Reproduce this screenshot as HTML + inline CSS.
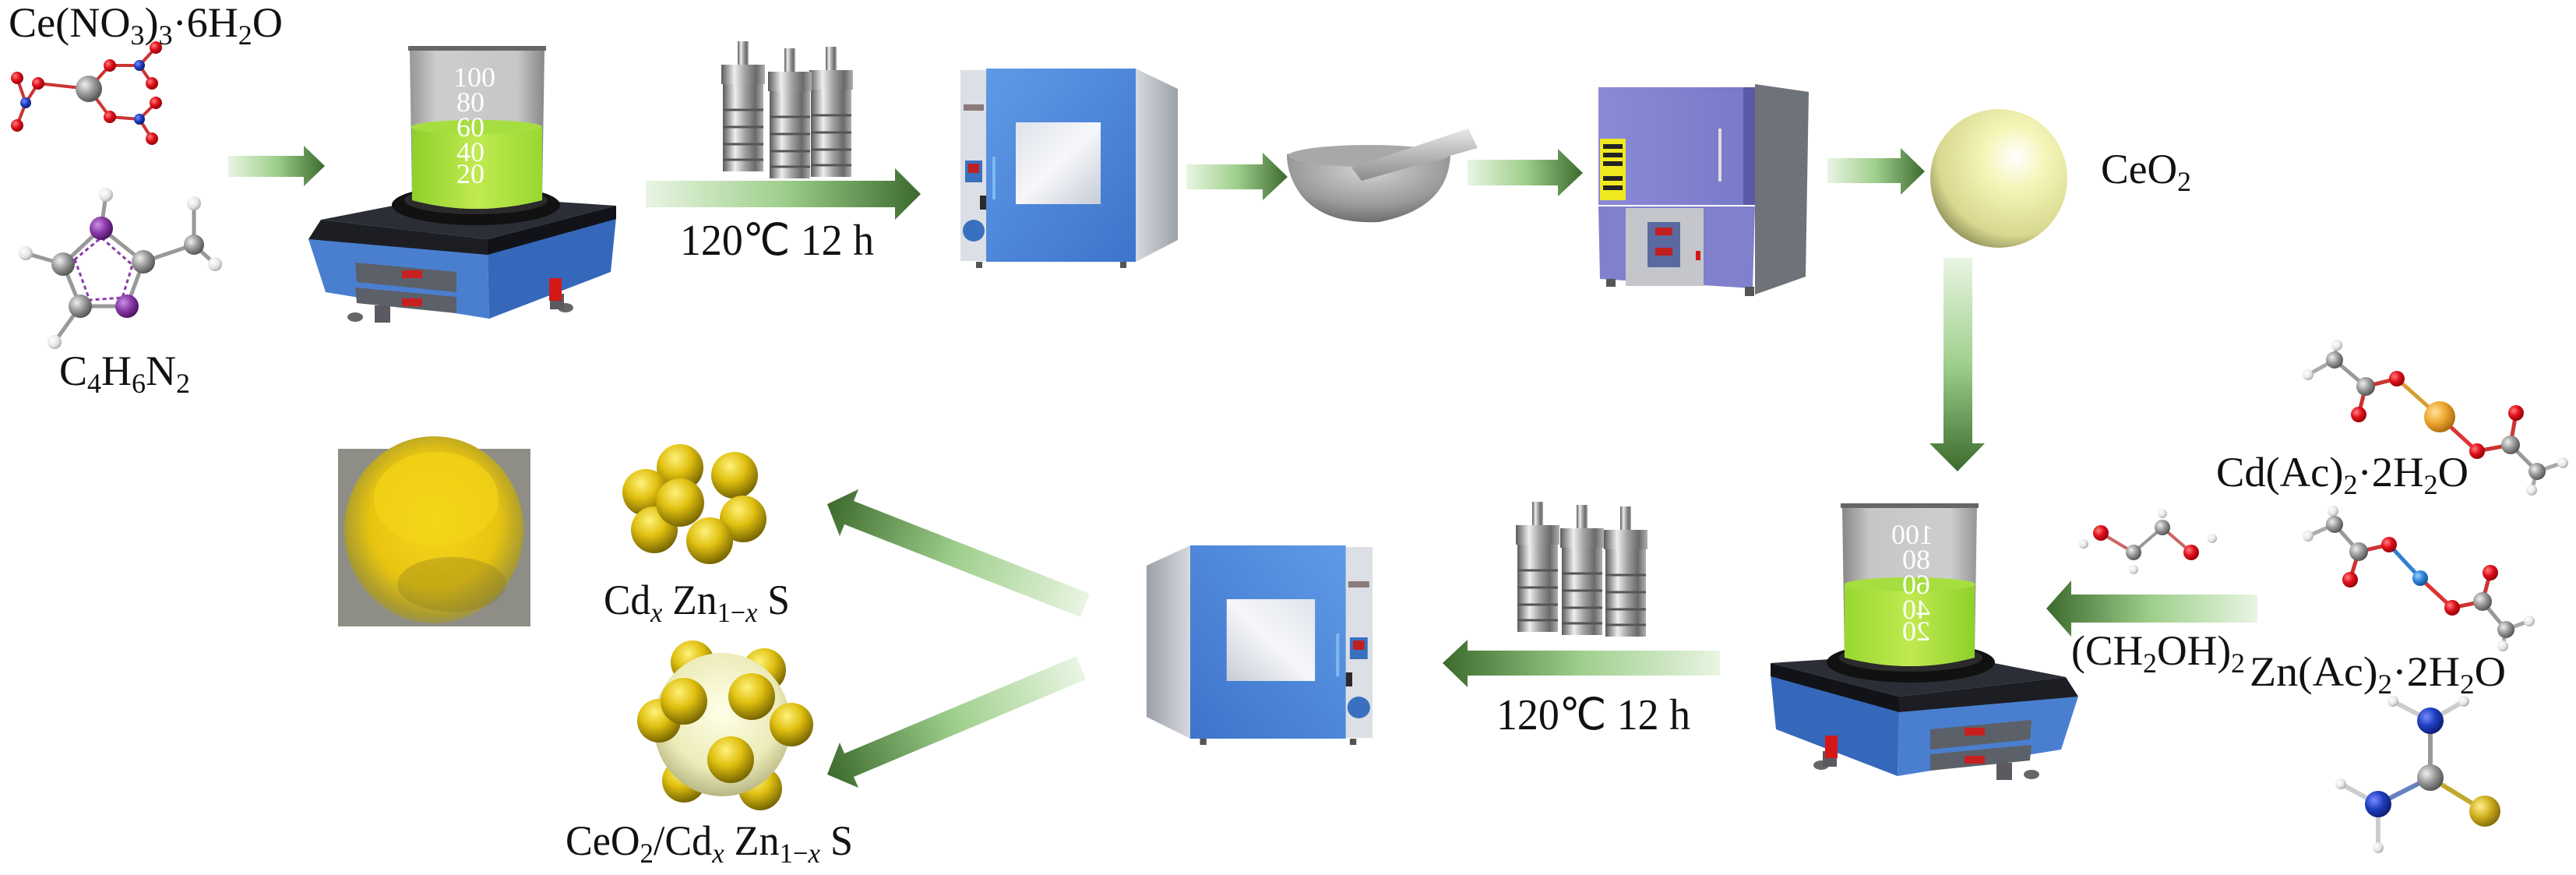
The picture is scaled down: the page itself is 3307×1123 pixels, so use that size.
<!DOCTYPE html>
<html><head><meta charset="utf-8"><style>
html,body{margin:0;padding:0;background:#fff;}
svg{display:block;}
text{font-family:"Liberation Serif",serif;fill:#111;}
</style></head><body>
<svg width="3307" height="1123" viewBox="0 0 3307 1123" xmlns="http://www.w3.org/2000/svg">
<defs>
<linearGradient id="gR" x1="0" x2="1" y1="0" y2="0"><stop offset="0" stop-color="#e9f5e3"/><stop offset="0.5" stop-color="#9fcf8c"/><stop offset="1" stop-color="#3b6a2c"/></linearGradient>
<linearGradient id="gL" x1="1" x2="0" y1="0" y2="0"><stop offset="0" stop-color="#e9f5e3"/><stop offset="0.5" stop-color="#9fcf8c"/><stop offset="1" stop-color="#3b6a2c"/></linearGradient>
<linearGradient id="gD" x1="0" x2="0" y1="0" y2="1"><stop offset="0" stop-color="#e9f5e3"/><stop offset="0.5" stop-color="#9fcf8c"/><stop offset="1" stop-color="#3b6a2c"/></linearGradient>
<linearGradient id="gU" gradientUnits="userSpaceOnUse" x1="1393" y1="777" x2="1062" y2="646"><stop offset="0" stop-color="#e9f5e3"/><stop offset="0.5" stop-color="#9fcf8c"/><stop offset="1" stop-color="#3b6a2c"/></linearGradient>
<linearGradient id="gLo" gradientUnits="userSpaceOnUse" x1="1388" y1="857" x2="1062" y2="994"><stop offset="0" stop-color="#e9f5e3"/><stop offset="0.5" stop-color="#9fcf8c"/><stop offset="1" stop-color="#3b6a2c"/></linearGradient>
<radialGradient id="aRed" cx="0.35" cy="0.35" r="0.7"><stop offset="0" stop-color="#ff8080"/><stop offset="0.5" stop-color="#e0101a"/><stop offset="1" stop-color="#900008"/></radialGradient>
<radialGradient id="aBlue" cx="0.35" cy="0.35" r="0.7"><stop offset="0" stop-color="#7a8cff"/><stop offset="0.5" stop-color="#1f3fc0"/><stop offset="1" stop-color="#0d1c70"/></radialGradient>
<radialGradient id="aLB" cx="0.35" cy="0.35" r="0.7"><stop offset="0" stop-color="#9cd0ff"/><stop offset="0.5" stop-color="#2f86d8"/><stop offset="1" stop-color="#1a4f90"/></radialGradient>
<radialGradient id="aGrey" cx="0.35" cy="0.35" r="0.7"><stop offset="0" stop-color="#f0f0f0"/><stop offset="0.5" stop-color="#9a9a9a"/><stop offset="1" stop-color="#505050"/></radialGradient>
<radialGradient id="aWhite" cx="0.35" cy="0.35" r="0.7"><stop offset="0" stop-color="#ffffff"/><stop offset="0.6" stop-color="#e6e6e6"/><stop offset="1" stop-color="#a8a8a8"/></radialGradient>
<radialGradient id="aPur" cx="0.35" cy="0.35" r="0.7"><stop offset="0" stop-color="#c890e0"/><stop offset="0.5" stop-color="#8a3aa8"/><stop offset="1" stop-color="#4a1060"/></radialGradient>
<radialGradient id="aOr" cx="0.35" cy="0.35" r="0.7"><stop offset="0" stop-color="#ffe0a0"/><stop offset="0.5" stop-color="#f0a830"/><stop offset="1" stop-color="#a86810"/></radialGradient>
<radialGradient id="aYel" cx="0.35" cy="0.35" r="0.7"><stop offset="0" stop-color="#fff090"/><stop offset="0.5" stop-color="#d0b020"/><stop offset="1" stop-color="#806808"/></radialGradient>
<radialGradient id="gold" cx="0.4" cy="0.3" r="0.75"><stop offset="0" stop-color="#fff27a"/><stop offset="0.45" stop-color="#e0c010"/><stop offset="1" stop-color="#6a5a00"/></radialGradient>
<radialGradient id="ceo" cx="0.62" cy="0.35" r="0.75"><stop offset="0" stop-color="#ffffff"/><stop offset="0.3" stop-color="#f5f5b8"/><stop offset="0.75" stop-color="#d8d890"/><stop offset="1" stop-color="#7a7a48"/></radialGradient>
<radialGradient id="ceo2" cx="0.5" cy="0.4" r="0.7"><stop offset="0" stop-color="#ffffe8"/><stop offset="0.6" stop-color="#ecebb8"/><stop offset="1" stop-color="#9a9a68"/></radialGradient>
<radialGradient id="powder" cx="0.5" cy="0.45" r="0.6"><stop offset="0" stop-color="#f6d820"/><stop offset="0.6" stop-color="#e8c410"/><stop offset="0.85" stop-color="#a89a30"/><stop offset="1" stop-color="#8e8e84"/></radialGradient>
<linearGradient id="liq" x1="0" x2="1"><stop offset="0" stop-color="#8fd02a"/><stop offset="0.5" stop-color="#c0ea50"/><stop offset="1" stop-color="#98d830"/></linearGradient>
<linearGradient id="glass" x1="0" x2="1"><stop offset="0" stop-color="#8a8a8a"/><stop offset="0.2" stop-color="#c8c8c8"/><stop offset="0.8" stop-color="#c0c0c0"/><stop offset="1" stop-color="#7a7a7a"/></linearGradient>
<linearGradient id="door" x1="0" x2="1" y1="0" y2="1"><stop offset="0" stop-color="#5f9ae6"/><stop offset="1" stop-color="#3d74cc"/></linearGradient>
<linearGradient id="side" x1="0" x2="1"><stop offset="0" stop-color="#d6d9de"/><stop offset="1" stop-color="#9ca1a9"/></linearGradient>
<linearGradient id="win" x1="0" x2="1" y1="0" y2="1"><stop offset="0" stop-color="#dfe3ea"/><stop offset="0.5" stop-color="#f6f7fa"/><stop offset="1" stop-color="#c7ccd6"/></linearGradient>
<linearGradient id="steel" x1="0" x2="1"><stop offset="0" stop-color="#5a5a5a"/><stop offset="0.3" stop-color="#eeeeee"/><stop offset="0.55" stop-color="#a0a0a0"/><stop offset="0.8" stop-color="#6a6a6a"/><stop offset="1" stop-color="#b0b0b0"/></linearGradient>
<linearGradient id="purp" x1="0" x2="1"><stop offset="0" stop-color="#8a8ad8"/><stop offset="1" stop-color="#7878c8"/></linearGradient>
<radialGradient id="stone" cx="0.5" cy="0.3" r="0.8"><stop offset="0" stop-color="#d4d4d4"/><stop offset="0.6" stop-color="#9a9a9a"/><stop offset="1" stop-color="#5a5a5a"/></radialGradient>
<linearGradient id="pest" x1="0" x2="0" y1="0" y2="1"><stop offset="0" stop-color="#e8e8e8"/><stop offset="1" stop-color="#8a8a8a"/></linearGradient>

<g id="hotplate">
  <ellipse cx="60" cy="350" rx="10" ry="6" fill="#666"/>
  <ellipse cx="330" cy="338" rx="10" ry="6" fill="#666"/>
  <rect x="85" y="335" width="20" height="22" fill="#5a5a60"/>
  <rect x="310" y="320" width="18" height="20" fill="#5a5a60"/>
  <polygon points="0,250 230,268 232,352 22,318" fill="#4a7fd0"/>
  <polygon points="230,268 395,222 388,292 232,352" fill="#3568ba"/>
  <polygon points="16,225 180,193 395,207 230,250" fill="#2b2e36"/>
  <polygon points="16,225 230,250 230,270 0,250" fill="#1c1e24"/>
  <polygon points="230,250 395,207 395,224 230,270" fill="#121318"/>
  <polygon points="60,280 190,292 190,318 62,305" fill="#5c6068"/>
  <polygon points="60,312 190,324 190,345 62,332" fill="#5c6068"/>
  <rect x="120" y="290" width="26" height="10" fill="#c82020"/>
  <rect x="120" y="326" width="26" height="10" fill="#c82020"/>
  <rect x="309" y="300" width="16" height="29" fill="#d41818"/>
  <ellipse cx="215" cy="206" rx="108" ry="26" fill="#111"/>
  <ellipse cx="215" cy="200" rx="92" ry="18" fill="#2a2a2a"/>
  <path d="M130,6 L303,6 L300,200 Q215,222 133,200 Z" fill="url(#glass)" opacity="0.9"/>
  <path d="M133,106 L300,106 L300,200 Q215,222 133,200 Z" fill="url(#liq)"/>
  <ellipse cx="216" cy="106" rx="84" ry="9" fill="#a6de40"/>
  <rect x="128" y="2" width="177" height="6" fill="#666"/>
  <g font-size="36" fill="#fff" style="fill:#fff">
    <text x="186" y="54" style="fill:#fff" font-size="36">100</text>
    <text x="190" y="86" style="fill:#fff" font-size="36">80</text>
    <text x="190" y="118" style="fill:#fff" font-size="36">60</text>
    <text x="190" y="150" style="fill:#fff" font-size="36">40</text>
    <text x="190" y="178" style="fill:#fff" font-size="36">20</text>
  </g>
</g>

<g id="oven">
  <polygon points="225,2 279,28 279,222 225,250" fill="url(#side)"/>
  <rect x="0" y="4" width="33" height="245" fill="#dcdfe5"/>
  <rect x="4" y="48" width="26" height="8" fill="#8a7a7a"/>
  <rect x="6" y="120" width="22" height="28" fill="#3a70c0"/>
  <rect x="10" y="124" width="14" height="12" fill="#c02020"/>
  <circle cx="17" cy="210" r="14" fill="#3a70c0"/>
  <rect x="25" y="165" width="8" height="18" fill="#2a2a2a"/>
  <rect x="33" y="2" width="192" height="248" fill="url(#door)"/>
  <rect x="71" y="71" width="109" height="105" fill="url(#win)"/>
  <line x1="43" y1="115" x2="43" y2="170" stroke="#7fb8f0" stroke-width="4"/>
  <rect x="20" y="250" width="8" height="8" fill="#555"/>
  <rect x="205" y="250" width="8" height="8" fill="#555"/>
</g>

<g id="clave">
  <rect x="-7" y="0" width="14" height="34" fill="url(#steel)"/>
  <rect x="-28" y="30" width="56" height="25" fill="url(#steel)"/>
  <rect x="-26" y="55" width="52" height="112" fill="url(#steel)"/>
  <line x1="-26" y1="88" x2="26" y2="88" stroke="#555" stroke-width="3"/>
  <line x1="-26" y1="110" x2="26" y2="110" stroke="#555" stroke-width="3"/>
  <line x1="-26" y1="132" x2="26" y2="132" stroke="#555" stroke-width="3"/>
  <line x1="-26" y1="152" x2="26" y2="152" stroke="#555" stroke-width="3"/>
</g>
</defs>

<!-- ===== Top row ===== -->
<text x="11" y="47" font-size="54" textLength="352" lengthAdjust="spacingAndGlyphs">Ce(NO<tspan font-size="36" dy="10">3</tspan><tspan dy="-10">)</tspan><tspan font-size="36" dy="10">3</tspan><tspan dy="-10">·6H</tspan><tspan font-size="36" dy="10">2</tspan><tspan dy="-10">O</tspan></text>

<!-- nitrate molecule -->
<g stroke-width="4">
<line x1="114" y1="114" x2="141" y2="84" stroke="#c33"/><line x1="141" y1="84" x2="179" y2="84" stroke="#c33"/>
<line x1="179" y1="84" x2="200" y2="61" stroke="#c33"/><line x1="179" y1="84" x2="195" y2="107" stroke="#c33"/>
<line x1="114" y1="114" x2="49" y2="107" stroke="#c33"/><line x1="49" y1="107" x2="33" y2="132" stroke="#c33"/>
<line x1="33" y1="132" x2="22" y2="161" stroke="#c33"/><line x1="33" y1="132" x2="22" y2="100" stroke="#c33"/>
<line x1="114" y1="114" x2="141" y2="150" stroke="#c33"/><line x1="141" y1="150" x2="179" y2="153" stroke="#c33"/>
<line x1="179" y1="153" x2="200" y2="132" stroke="#c33"/><line x1="179" y1="153" x2="195" y2="178" stroke="#c33"/>
</g>
<circle cx="114" cy="114" r="17" fill="url(#aGrey)"/>
<g fill="url(#aRed)"><circle cx="141" cy="84" r="8"/><circle cx="200" cy="61" r="8"/><circle cx="195" cy="107" r="8"/><circle cx="49" cy="107" r="8"/><circle cx="22" cy="161" r="8"/><circle cx="22" cy="100" r="8"/><circle cx="141" cy="150" r="8"/><circle cx="200" cy="132" r="8"/><circle cx="195" cy="178" r="8"/></g>
<g fill="url(#aBlue)"><circle cx="179" cy="84" r="7"/><circle cx="33" cy="132" r="7"/><circle cx="179" cy="153" r="7"/></g>

<!-- imidazole -->
<g stroke="#999" stroke-width="5">
<line x1="130" y1="293" x2="81" y2="339"/><line x1="130" y1="293" x2="184" y2="336"/><line x1="81" y1="339" x2="103" y2="393"/><line x1="103" y1="393" x2="163" y2="393"/><line x1="163" y1="393" x2="184" y2="336"/><line x1="184" y1="336" x2="249" y2="314"/><line x1="130" y1="293" x2="136" y2="250"/><line x1="81" y1="339" x2="33" y2="325"/><line x1="249" y1="314" x2="249" y2="261"/><line x1="249" y1="314" x2="276" y2="339"/><line x1="103" y1="393" x2="70" y2="439"/>
</g>
<g stroke="#8a3aa8" stroke-width="3" stroke-dasharray="5 4" fill="none"><path d="M96,333 L115,385 L157,382 L170,340 L130,305 Z"/></g>
<g fill="url(#aWhite)"><circle cx="136" cy="250" r="9"/><circle cx="249" cy="261" r="9"/><circle cx="33" cy="325" r="9"/><circle cx="276" cy="339" r="9"/><circle cx="70" cy="439" r="9"/></g>
<g fill="url(#aGrey)"><circle cx="81" cy="339" r="15"/><circle cx="184" cy="336" r="15"/><circle cx="103" cy="393" r="15"/><circle cx="249" cy="314" r="13"/></g>
<g fill="url(#aPur)"><circle cx="130" cy="293" r="15"/><circle cx="163" cy="393" r="15"/></g>
<text x="76" y="494" font-size="54" textLength="168" lengthAdjust="spacingAndGlyphs">C<tspan font-size="36" dy="10">4</tspan><tspan dy="-10">H</tspan><tspan font-size="36" dy="10">6</tspan><tspan dy="-10">N</tspan><tspan font-size="36" dy="10">2</tspan></text>

<!-- arrows top -->
<polygon points="293,200 390,200 390,187 417,213 390,239 390,227 293,227" fill="url(#gR)"/>
<use href="#hotplate" transform="translate(396,57)"/>
<g transform="translate(0,0)"><use href="#clave" transform="translate(954,53)"/><use href="#clave" transform="translate(1067,60)"/><use href="#clave" transform="translate(1014,62)"/></g>
<polygon points="829,232 1149,232 1149,216 1182,249 1149,282 1149,266 829,266" fill="url(#gR)"/>
<text x="873" y="327" font-size="56" textLength="249" lengthAdjust="spacingAndGlyphs">120℃ 12 h</text>
<use href="#oven" transform="translate(1233,86)"/>
<polygon points="1523,211 1621,211 1621,196 1653,227 1621,257 1621,243 1523,243" fill="url(#gR)"/>

<!-- mortar -->
<path d="M1652,198 Q1750,178 1862,198 Q1860,268 1770,285 Q1700,288 1670,250 Q1652,225 1652,198 Z" fill="url(#stone)"/>
<ellipse cx="1757" cy="200" rx="103" ry="14" fill="#a8a8a8"/>
<polygon points="1735,215 1885,165 1897,190 1748,232" fill="url(#pest)"/>
<polygon points="1884,205 2000,205 2000,191 2032,222 2000,252 2000,238 1884,238" fill="url(#gR)"/>

<!-- furnace -->
<polygon points="2253,108 2322,118 2318,355 2253,378" fill="#6e7279"/>
<rect x="2052" y="112" width="201" height="151" fill="url(#purp)"/>
<rect x="2238" y="112" width="15" height="151" fill="#5a5aa8"/>
<rect x="2054" y="178" width="33" height="79" fill="#f0e820"/>
<g fill="#222"><rect x="2058" y="185" width="25" height="6"/><rect x="2058" y="196" width="25" height="6"/><rect x="2058" y="207" width="25" height="6"/><rect x="2058" y="226" width="25" height="6"/><rect x="2058" y="238" width="25" height="6"/></g>
<line x1="2208" y1="165" x2="2208" y2="233" stroke="#ddd" stroke-width="4"/>
<polygon points="2052,265 2253,265 2250,370 2054,358" fill="#8080cc"/>
<rect x="2087" y="267" width="100" height="100" fill="#c4c6cc"/>
<rect x="2115" y="285" width="42" height="58" fill="#5a6aa0"/>
<rect x="2125" y="292" width="22" height="10" fill="#c02020"/><rect x="2125" y="318" width="22" height="10" fill="#c02020"/>
<rect x="2177" y="322" width="6" height="12" fill="#d01818"/>
<rect x="2062" y="358" width="12" height="10" fill="#555"/><rect x="2240" y="368" width="12" height="12" fill="#555"/>
<polygon points="2346,203 2440,203 2440,190 2471,220 2440,250 2440,235 2346,235" fill="url(#gR)"/>

<!-- CeO2 sphere -->
<ellipse cx="2566" cy="229" rx="88" ry="89" fill="url(#ceo)"/>
<text x="2697" y="235" font-size="54" textLength="116" lengthAdjust="spacingAndGlyphs">CeO<tspan font-size="36" dy="10">2</tspan></text>

<!-- down arrow -->
<polygon points="2495,331 2532,331 2532,569 2548,569 2513,605 2477,569 2495,569" fill="url(#gD)"/>

<!-- ===== bottom right ===== -->
<use href="#hotplate" transform="translate(2668,644) scale(-1,1)"/>

<!-- Cd(Ac)2 molecule -->
<g stroke-width="5">
<line x1="2997" y1="462" x2="3037" y2="496" stroke="#999"/><line x1="2997" y1="462" x2="3000" y2="443" stroke="#aaa"/><line x1="2997" y1="462" x2="2963" y2="481" stroke="#aaa"/>
<line x1="3037" y1="496" x2="3028" y2="532" stroke="#c33"/><line x1="3037" y1="496" x2="3077" y2="486" stroke="#c33"/>
<line x1="3077" y1="486" x2="3132" y2="535" stroke="#d4a030"/><line x1="3132" y1="535" x2="3180" y2="579" stroke="#d33"/>
<line x1="3180" y1="579" x2="3223" y2="571" stroke="#c33"/><line x1="3223" y1="571" x2="3230" y2="530" stroke="#c33"/><line x1="3223" y1="571" x2="3257" y2="605" stroke="#999"/>
<line x1="3257" y1="605" x2="3290" y2="594" stroke="#aaa"/><line x1="3257" y1="605" x2="3250" y2="629" stroke="#aaa"/>
</g>
<g fill="url(#aWhite)"><circle cx="3000" cy="443" r="7"/><circle cx="2963" cy="481" r="7"/><circle cx="3290" cy="594" r="7"/><circle cx="3250" cy="629" r="7"/></g>
<g fill="url(#aGrey)"><circle cx="2997" cy="462" r="11"/><circle cx="3037" cy="496" r="12"/><circle cx="3223" cy="571" r="12"/><circle cx="3257" cy="605" r="11"/></g>
<g fill="url(#aRed)"><circle cx="3028" cy="532" r="10"/><circle cx="3077" cy="486" r="10"/><circle cx="3180" cy="579" r="10"/><circle cx="3230" cy="530" r="10"/></g>
<circle cx="3132" cy="535" r="20" fill="url(#aOr)"/>
<text x="2845" y="624" font-size="54" textLength="324" lengthAdjust="spacingAndGlyphs">Cd(Ac)<tspan font-size="36" dy="10">2</tspan><tspan dy="-10">·2H</tspan><tspan font-size="36" dy="10">2</tspan><tspan dy="-10">O</tspan></text>

<!-- Zn(Ac)2 molecule -->
<g stroke-width="5">
<line x1="2997" y1="673" x2="3028" y2="708" stroke="#999"/><line x1="2997" y1="673" x2="2995" y2="656" stroke="#aaa"/><line x1="2997" y1="673" x2="2963" y2="688" stroke="#aaa"/>
<line x1="3028" y1="708" x2="3017" y2="744" stroke="#c33"/><line x1="3028" y1="708" x2="3067" y2="699" stroke="#c33"/>
<line x1="3067" y1="699" x2="3107" y2="742" stroke="#3080d0"/><line x1="3107" y1="742" x2="3148" y2="780" stroke="#d33"/>
<line x1="3148" y1="780" x2="3187" y2="772" stroke="#c33"/><line x1="3187" y1="772" x2="3197" y2="735" stroke="#c33"/><line x1="3187" y1="772" x2="3217" y2="808" stroke="#999"/>
<line x1="3217" y1="808" x2="3247" y2="797" stroke="#aaa"/><line x1="3217" y1="808" x2="3213" y2="829" stroke="#aaa"/>
</g>
<g fill="url(#aWhite)"><circle cx="2995" cy="656" r="7"/><circle cx="2963" cy="688" r="7"/><circle cx="3247" cy="797" r="7"/><circle cx="3213" cy="829" r="7"/></g>
<g fill="url(#aGrey)"><circle cx="2997" cy="673" r="11"/><circle cx="3028" cy="708" r="12"/><circle cx="3187" cy="772" r="12"/><circle cx="3217" cy="808" r="11"/></g>
<g fill="url(#aRed)"><circle cx="3017" cy="744" r="10"/><circle cx="3067" cy="699" r="10"/><circle cx="3148" cy="780" r="10"/><circle cx="3197" cy="735" r="10"/></g>
<circle cx="3107" cy="742" r="10" fill="url(#aLB)"/>

<!-- ethylene glycol -->
<g stroke-width="4"><line x1="2697" y1="684" x2="2739" y2="709" stroke="#c66"/><line x1="2739" y1="709" x2="2776" y2="677" stroke="#999"/><line x1="2776" y1="677" x2="2813" y2="709" stroke="#c66"/></g>
<g fill="url(#aWhite)"><circle cx="2675" cy="698" r="6"/><circle cx="2739" cy="731" r="6"/><circle cx="2776" cy="659" r="6"/><circle cx="2840" cy="691" r="6"/></g>
<g fill="url(#aGrey)"><circle cx="2739" cy="709" r="10"/><circle cx="2776" cy="677" r="10"/></g>
<g fill="url(#aRed)"><circle cx="2697" cy="684" r="10"/><circle cx="2813" cy="709" r="10"/></g>

<polygon points="2898,763 2659,763 2659,745 2627,781 2659,817 2659,799 2898,799" fill="url(#gL)"/>
<text x="2659" y="853" font-size="54" textLength="223" lengthAdjust="spacingAndGlyphs">(CH<tspan font-size="36" dy="10">2</tspan><tspan dy="-10">OH)</tspan><tspan font-size="36" dy="10">2</tspan></text>
<text x="2888" y="880" font-size="54" textLength="329" lengthAdjust="spacingAndGlyphs">Zn(Ac)<tspan font-size="36" dy="10">2</tspan><tspan dy="-10">·2H</tspan><tspan font-size="36" dy="10">2</tspan><tspan dy="-10">O</tspan></text>

<!-- thiourea -->
<g stroke-width="6"><line x1="3120" y1="925" x2="3120" y2="998" stroke="#999"/><line x1="3120" y1="998" x2="3053" y2="1032" stroke="#6680c0"/><line x1="3120" y1="998" x2="3190" y2="1041" stroke="#c0a830"/>
<line x1="3120" y1="925" x2="3072" y2="900" stroke="#ccc"/><line x1="3120" y1="925" x2="3163" y2="900" stroke="#ccc"/><line x1="3053" y1="1032" x2="3005" y2="1006" stroke="#ccc"/><line x1="3053" y1="1032" x2="3053" y2="1088" stroke="#ccc"/></g>
<g fill="url(#aWhite)"><circle cx="3072" cy="900" r="7"/><circle cx="3163" cy="900" r="7"/><circle cx="3005" cy="1006" r="7"/><circle cx="3053" cy="1088" r="7"/></g>
<g fill="url(#aBlue)"><circle cx="3120" cy="925" r="17"/><circle cx="3053" cy="1032" r="17"/></g>
<circle cx="3120" cy="998" r="17" fill="url(#aGrey)"/>
<circle cx="3190" cy="1041" r="20" fill="url(#aYel)"/>

<!-- autoclaves 2 -->
<use href="#clave" transform="translate(1974,644)"/><use href="#clave" transform="translate(2087,650)"/><use href="#clave" transform="translate(2031,648)"/>
<polygon points="2208,835 1884,835 1884,821 1852,851 1884,882 1884,867 2208,867" fill="url(#gL)"/>
<text x="1921" y="936" font-size="56" textLength="249" lengthAdjust="spacingAndGlyphs">120℃ 12 h</text>

<!-- oven 2 (mirrored) -->
<use href="#oven" transform="translate(1762,698) scale(-1.04,1)"/>

<!-- diagonal arrows -->
<polygon points="1399,762 1096,643 1102,628 1062,647 1078,688 1084,673 1387,792" fill="url(#gU)"/>
<polygon points="1382,842 1084,967 1078,953 1062,994 1102,1011 1096,997 1394,872" fill="url(#gLo)"/>

<!-- cluster 1 -->
<g fill="url(#gold)">
<circle cx="873" cy="600" r="30"/><circle cx="943" cy="610" r="30"/><circle cx="829" cy="632" r="30"/><circle cx="954" cy="666" r="30"/><circle cx="840" cy="680" r="30"/><circle cx="911" cy="694" r="30"/><circle cx="873" cy="645" r="31"/>
</g>
<text x="775" y="788" font-size="54" textLength="239" lengthAdjust="spacingAndGlyphs">Cd<tspan font-size="36" dy="10" font-style="italic">x</tspan><tspan dy="-10"> Zn</tspan><tspan font-size="36" dy="10">1−<tspan font-style="italic">x</tspan></tspan><tspan dy="-10"> S</tspan></text>

<!-- cluster 2 -->
<g fill="url(#gold)"><circle cx="878" cy="1002" r="28"/><circle cx="976" cy="1012" r="28"/><circle cx="889" cy="850" r="28"/><circle cx="981" cy="860" r="28"/></g>
<ellipse cx="927" cy="930" rx="88" ry="92" fill="url(#ceo2)"/>
<g fill="url(#gold)"><circle cx="846" cy="925" r="28"/><circle cx="1016" cy="930" r="28"/><circle cx="878" cy="900" r="30"/><circle cx="965" cy="894" r="30"/><circle cx="938" cy="975" r="30"/></g>
<text x="726" y="1097" font-size="54" textLength="369" lengthAdjust="spacingAndGlyphs">CeO<tspan font-size="36" dy="10">2</tspan><tspan dy="-10">/Cd</tspan><tspan font-size="36" dy="10" font-style="italic">x</tspan><tspan dy="-10"> Zn</tspan><tspan font-size="36" dy="10">1−<tspan font-style="italic">x</tspan></tspan><tspan dy="-10"> S</tspan></text>

<!-- powder photo -->
<rect x="434" y="576" width="247" height="228" fill="#8e8e86"/>
<ellipse cx="557" cy="680" rx="115" ry="120" fill="url(#powder)"/>
<ellipse cx="560" cy="640" rx="80" ry="60" fill="#f2d418" opacity="0.7"/>
<ellipse cx="580" cy="750" rx="70" ry="35" fill="#8a7a20" opacity="0.35"/>
</svg>
</body></html>
